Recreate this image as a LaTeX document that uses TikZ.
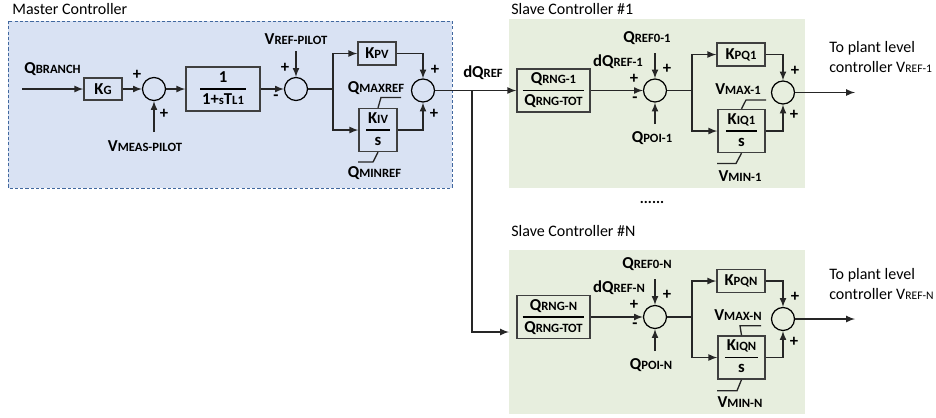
\documentclass[tikz,border=0pt]{standalone}
\usepackage{fontspec}
\setmainfont{Carlito}
\usepackage{array}
\usetikzlibrary{positioning}

\definecolor{masterfill}{HTML}{D9E2F3}
\definecolor{masteredge}{HTML}{41689F}
\definecolor{slavefill}{HTML}{E7EEDE}
\definecolor{blockedge}{HTML}{3F3F3F}

\newcommand{\varname}[2]{{\bfseries\fontsize{9.5}{12}\selectfont #1\fontsize{7.2}{12}\selectfont #2}}
\newcommand{\ratio}[2]{{\setlength{\tabcolsep}{1pt}\setlength{\arrayrulewidth}{0.7pt}\renewcommand{\arraystretch}{0.98}\begin{tabular}{c}#1\\\hline #2\end{tabular}}}

\begin{document}
\begin{tikzpicture}[
            x=0.02cm, y=-0.02cm, >=latex,
            block/.style={rectangle, draw=blockedge, line width=0.8pt, inner sep=0pt, align=center, fill=none},
            sumnode/.style={circle, draw=black, line width=0.7pt, minimum size=0.46cm, inner sep=0pt},
            label_txt/.style={inner sep=0pt, align=center},
            sign/.style={inner sep=0pt, font=\bfseries\fontsize{9.5}{12}\selectfont},
            title_txt/.style={inner sep=0pt, anchor=west, font=\fontsize{9.1}{11.3}\selectfont},
            plant_txt/.style={inner sep=0pt, anchor=west, align=left, font=\fontsize{9.1}{11.3}\selectfont},
            wire/.style={line width=0.75pt, draw=black!85},
            arrow/.style={->, wire}
        ]
            \useasboundingbox (0,0) rectangle (936,417);

% Backgrounds
            \draw[fill=masterfill, draw=masteredge, line width=0.5pt, dash pattern=on 1.8pt off 1.2pt] (8,21) rectangle (452,188);
            \fill[slavefill] (509,19) rectangle (805,188);
            \fill[slavefill] (509,250) rectangle (805,414);

% Titles
            \node[title_txt] (master_title) at (12,9) {Master Controller};
            \node[title_txt] (slave1_title) at (511,9) {Slave Controller \#1};
            \node[title_txt] (slaven_title) at (511,231) {Slave Controller \#N};
            \node[sign, font=\bfseries\fontsize{8.6}{12}\selectfont] (dots) at (652,202) {......};

% Master controller
            \coordinate (q_in) at (22,89);
            \coordinate (vmeas_in) at (154,132);
            \coordinate (vref_in) at (296,51);
            \coordinate (kiv_max) at (401,97.5);
            \coordinate (kiv_min) at (358,162);
            \node[block, minimum width=0.76cm, minimum height=0.44cm] (kg) at (103,89) {\varname{K}{G}};
            \node[sumnode] (sum_a) at (154,89) {};
            \node[block, minimum width=1.48cm, minimum height=0.88cm] (tl) at (223,89) {\ratio{\varname{1}{}}{\varname{1+}{s}\varname{T}{L1}}};
            \node[sumnode] (sum_b) at (296,89) {};
            \coordinate (split_m) at (333,89);
            \node[block, minimum width=0.76cm, minimum height=0.46cm] (kpv) at (377,53.5) {\varname{K}{PV}};
            \node[block, minimum width=0.76cm, minimum height=0.86cm] (kiv) at (378,130) {\ratio{\varname{K}{IV}}{\varname{s}{}}};
            \node[sumnode] (sum_c) at (423,90.5) {};

            \draw[arrow] (q_in) -- (kg);
            \draw[arrow] (kg) -- (sum_a);
            \draw[arrow] (vmeas_in) -- (sum_a);
            \draw[arrow] (sum_a) -- (tl);
            \draw[arrow] (tl) -- (sum_b);
            \draw[arrow] (vref_in) -- (sum_b);
            \draw[wire] (sum_b) -- (split_m);
            \draw[arrow] (split_m) |- (kpv);
            \draw[arrow] (split_m) |- (kiv);
            \draw[arrow] (kpv) -| (sum_c);
            \draw[arrow] (kiv) -| (sum_c);
            \draw[wire] (kiv.north) -- (381,97.5) -- (kiv_max);
            \draw[wire] (kiv.south) -- (373,162) -- (kiv_min);

            \node[label_txt] (q_branch) at (52.5,69) {\varname{Q}{BRANCH}};
            \node[label_txt] (v_meas) at (145,146) {\varname{V}{MEAS-PILOT}};
            \node[label_txt] (v_ref) at (296,39) {\varname{V}{REF-PILOT}};
            \node[label_txt] (q_maxref) at (376,88) {\varname{Q}{MAXREF}};
            \node[label_txt] (q_minref) at (374.5,173) {\varname{Q}{MINREF}};
            \node[sign] (s_a1) at (137,75) {+};
            \node[sign] (s_a2) at (164,114) {+};
            \node[sign] (s_b1) at (285,68) {+};
            \node[sign] (s_b2) at (276,98) {-};
            \node[sign] (s_c1) at (435,70) {+};
            \node[sign] (s_c2) at (434,114) {+};

% Signal to slaves
            \coordinate (split_q) at (472,90.5);
            \coordinate (n_in) at (509,332);
            \node[label_txt] (dq_ref) at (483,73) {\varname{dQ}{REF}};

% Slave controller 1
            \coordinate (qref1_in) at (655,53);
            \coordinate (qpoi1_in) at (655,124);
            \coordinate (split_1) at (692,90.5);
            \coordinate (out_1) at (855,92.5);
            \coordinate (kiq1_max) at (766,100);
            \coordinate (kiq1_min) at (717,163.5);
            \node[block, minimum width=1.46cm, minimum height=0.86cm] (rng1) at (553.5,90.5) {\ratio{\varname{Q}{RNG-1}}{\varname{Q}{RNG-TOT}}};
            \node[sumnode] (sum_1a) at (655,90.5) {};
            \node[block, minimum width=0.96cm, minimum height=0.46cm] (kpq1) at (741,54.5) {\varname{K}{PQ1}};
            \node[block, minimum width=0.94cm, minimum height=0.86cm] (kiq1) at (741.5,131) {\ratio{\varname{K}{IQ1}}{\varname{s}{}}};
            \node[sumnode] (sum_1b) at (783,92.5) {};

            \draw[wire] (sum_c) -- (split_q);
            \draw[arrow] (split_q) -- (rng1);
            \draw[arrow] (split_q) |- (n_in);
            \draw[arrow] (rng1) -- (sum_1a);
            \draw[arrow] (qref1_in) -- (sum_1a);
            \draw[arrow] (qpoi1_in) -- (sum_1a);
            \draw[wire] (sum_1a) -- (split_1);
            \draw[arrow] (split_1) |- (kpq1);
            \draw[arrow] (split_1) |- (kiq1);
            \draw[arrow] (kpq1) -| (sum_1b);
            \draw[arrow] (kiq1) -| (sum_1b);
            \draw[arrow] (sum_1b) -- (out_1);
            \draw[wire] (kiq1.north) -- (746,100) -- (kiq1_max);
            \draw[wire] (kiq1.south) -- (736,163.5) -- (kiq1_min);

            \node[label_txt] (q_ref01) at (647,38) {\varname{Q}{REF0-1}};
            \node[label_txt] (dq_ref1) at (618,62) {\varname{dQ}{REF-1}};
            \node[label_txt] (q_poi1) at (652,138) {\varname{Q}{POI-1}};
            \node[label_txt] (v_max1) at (738,89) {\varname{V}{MAX-1}};
            \node[label_txt] (v_min1) at (740,176) {\varname{V}{MIN-1}};
            \node[sign] (s_1a) at (634,79) {+};
            \node[sign] (s_1b) at (635,100) {-};
            \node[sign] (s_1c) at (667,69) {+};
            \node[sign] (s_1d) at (795,71) {+};
            \node[sign] (s_1e) at (794,115) {+};
            \node[plant_txt] (plant_1) at (829,57) {To plant level\\controller V{\fontsize{6.6}{11.3}\selectfont REF-1}};

% Slave controller N
            \coordinate (qrefn_in) at (655,279);
            \coordinate (qpoin_in) at (655,351);
            \coordinate (split_n) at (692,317);
            \coordinate (out_n) at (855,319);
            \coordinate (kiqn_max) at (761,325.7);
            \coordinate (kiqn_min) at (717,390.7);
            \node[block, minimum width=1.46cm, minimum height=0.86cm] (rngn) at (553.5,317) {\ratio{\varname{Q}{RNG-N}}{\varname{Q}{RNG-TOT}}};
            \node[sumnode] (sum_na) at (655,317) {};
            \node[block, minimum width=0.96cm, minimum height=0.46cm] (kpqn) at (741,281) {\varname{K}{PQN}};
            \node[block, minimum width=0.94cm, minimum height=0.86cm] (kiqn) at (741.5,357.5) {\ratio{\varname{K}{IQN}}{\varname{s}{}}};
            \node[sumnode] (sum_nb) at (783,319) {};

            \draw[arrow] (rngn) -- (sum_na);
            \draw[arrow] (qrefn_in) -- (sum_na);
            \draw[arrow] (qpoin_in) -- (sum_na);
            \draw[wire] (sum_na) -- (split_n);
            \draw[arrow] (split_n) |- (kpqn);
            \draw[arrow] (split_n) |- (kiqn);
            \draw[arrow] (kpqn) -| (sum_nb);
            \draw[arrow] (kiqn) -| (sum_nb);
            \draw[arrow] (sum_nb) -- (out_n);
            \draw[wire] (kiqn.north) -- (740,325.7) -- (kiqn_max);
            \draw[wire] (kiqn.south) -- (737,390.7) -- (kiqn_min);

            \node[label_txt] (q_ref0n) at (647,264) {\varname{Q}{REF0-N}};
            \node[label_txt] (dq_refn) at (619,288) {\varname{dQ}{REF-N}};
            \node[label_txt] (q_poin) at (651,365) {\varname{Q}{POI-N}};
            \node[label_txt] (v_maxn) at (738,315) {\varname{V}{MAX-N}};
            \node[label_txt] (v_minn) at (740,402) {\varname{V}{MIN-N}};
            \node[sign] (s_na) at (634,305) {+};
            \node[sign] (s_nb) at (635,326) {-};
            \node[sign] (s_nc) at (667,295) {+};
            \node[sign] (s_nd) at (795,297) {+};
            \node[sign] (s_ne) at (794,342) {+};
            \node[plant_txt] (plant_n) at (829,284) {To plant level\\controller V{\fontsize{6.6}{11.3}\selectfont REF-N}};

        \end{tikzpicture}
\end{document}
